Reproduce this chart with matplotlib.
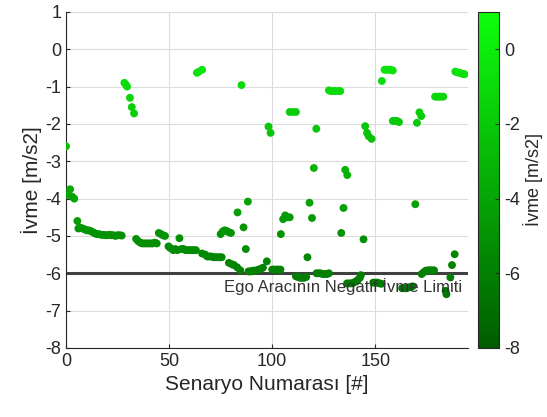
import numpy as np
import matplotlib
matplotlib.use("Agg")
import matplotlib.pyplot as plt
from matplotlib.colors import LinearSegmentedColormap

plt.rcParams['font.family'] = ['Liberation Sans', 'DejaVu Sans']
plt.rcParams['axes.unicode_minus'] = False

# scenario number and deceleration of each point
senaryo = [
    0, 1, 2, 3, 4, 5.5, 6, 7, 8, 9, 10, 11, 12, 13, 14, 15, 16, 17, 18, 19,
    20, 21, 22, 23, 24, 25, 26, 27,
    28.3, 29, 29.6, 31, 31.9, 33,
    34, 35, 36, 37, 38, 39, 40, 41, 42, 43, 44,
    45, 46, 47, 48,
    49.7, 50.5, 52, 53, 54, 55, 56, 57, 58, 59, 60, 61, 62, 63,
    63.5, 64.5, 66,
    66, 67.5, 68.5, 69.5, 70.5, 71.5, 72.5, 73.5, 74.5, 75.5,
    75, 76, 77, 78, 79, 80,
    79, 80.5, 81.5, 83, 84.5,
    83.2, 85.1, 86.1, 87.2, 88.2,
    88.5, 89.5, 90.5, 91.5, 92.5, 93.5, 94.5, 95.5, 97.4,
    98.2, 99.2,
    100, 101, 102, 103, 104,
    104.2, 105.3, 106.3, 107.5, 108.5,
    108.5, 110, 111.5,
    111.5, 112.5, 113.5, 114.5, 115.5, 116.5,
    117.1, 118.1, 119.3, 120.2, 121.4,
    121.5, 122.5, 123.5, 124.5, 125.5, 126.5, 127.5,
    127.5, 128.5, 129.5, 130.5, 132, 133,
    133.5, 134.6, 135.4, 136.4, 136.3,
    137.5, 138.5, 139.5, 140.5, 141.5, 142.5, 143,
    144.3, 145.1, 146, 146.8, 148.2,
    149, 150, 151, 152, 153,
    153.2, 154.5, 155.5, 156.5, 157.5, 158.5,
    158.5, 159.5, 160.5, 161.5,
    163, 164, 165, 166, 167, 168,
    169.4, 170.2, 171.4, 172.3,
    172.5, 173.5, 174.5, 175.5, 176.5, 177.5, 178.5,
    179, 180, 181, 182, 183,
    184.1, 184.5, 186.4, 187.2, 188.5,
    188.8, 189.8, 190.8, 191.8, 192.8, 193.3,
]
ivme = [
    -2.6, -3.9, -3.75, -3.95, -4.0, -4.6, -4.8, -4.78, -4.8, -4.82, -4.85, -4.85, -4.87, -4.9, -4.93, -4.95, -4.95, -4.97, -4.97, -4.98,
    -4.98, -4.97, -4.98, -4.98, -5.0, -4.98, -4.98, -4.99,
    -0.9, -0.95, -1.0, -1.3, -1.55, -1.72,
    -5.08, -5.14, -5.18, -5.2, -5.2, -5.2, -5.2, -5.2, -5.2, -5.18, -5.2,
    -4.92, -4.95, -4.98, -5.0,
    -5.28, -5.32, -5.38, -5.35, -5.38, -5.06, -5.35, -5.35, -5.38, -5.38, -5.38, -5.38, -5.38, -5.38,
    -0.63, -0.6, -0.55,
    -5.47, -5.5, -5.55, -5.55, -5.55, -5.57, -5.57, -5.57, -5.57, -5.57,
    -4.95, -4.88, -4.85, -4.87, -4.9, -4.92,
    -5.72, -5.76, -5.78, -5.84, -5.92,
    -4.37, -0.96, -4.77, -5.35, -4.08,
    -5.95, -5.95, -5.93, -5.93, -5.92, -5.9, -5.88, -5.85, -5.68,
    -2.07, -2.24,
    -5.9, -5.9, -5.9, -5.9, -5.9,
    -4.95, -4.55, -4.45, -4.5, -4.5,
    -1.68, -1.68, -1.68,
    -6.08, -6.1, -6.12, -6.12, -6.12, -6.1,
    -5.57, -4.11, -4.52, -3.18, -2.13,
    -6.0, -6.0, -6.0, -6.02, -6.02, -6.02, -6.0,
    -1.1, -1.12, -1.12, -1.12, -1.12, -1.12,
    -4.92, -4.25, -3.23, -3.37, -6.27,
    -6.27, -6.27, -6.25, -6.22, -6.18, -6.12, -6.05,
    -5.09, -2.06, -2.24, -2.33, -2.4,
    -6.25, -6.25, -6.25, -6.27, -6.28,
    -0.85, -0.55, -0.55, -0.55, -0.55, -0.57,
    -1.92, -1.92, -1.92, -1.95,
    -6.4, -6.4, -6.4, -6.38, -6.37, -6.35,
    -4.15, -1.97, -1.69, -1.79,
    -6.02, -5.97, -5.93, -5.92, -5.92, -5.92, -5.92,
    -1.27, -1.27, -1.27, -1.27, -1.27,
    -6.47, -6.56, -6.11, -5.78, -5.49,
    -0.6, -0.62, -0.63, -0.65, -0.66, -0.67,
]
limit = -6
limit_text = "Ego Aracının Negatif İvme Limiti"

greens = LinearSegmentedColormap.from_list(
    "greens", [(0.0, 0.36, 0.0), (0.05, 1.0, 0.05)])

fig = plt.figure(figsize=(5.47, 4.17), dpi=100)
ax = fig.add_axes([0.1207, 0.1655, 0.735, 0.806])
cax = fig.add_axes([0.874, 0.1655, 0.0384, 0.806])

sc = ax.scatter(senaryo, ivme, c=ivme, cmap=greens, vmin=-8, vmax=1,
                s=32, edgecolors='none', zorder=3)
ax.axhline(limit, color='#404040', linewidth=2.2, zorder=2)
ax.text(192, limit - 0.12, limit_text, ha='right', va='top',
        fontsize=12, color='#333333', zorder=4)

ax.set_xlim(0, 195)
ax.set_ylim(-8, 1)
ax.set_xticks([0, 50, 100, 150])
ax.set_yticks(range(-8, 2))
ax.grid(True, color='#dcdcdc', linewidth=0.8)
ax.set_axisbelow(True)
for side in ['top', 'right']:
    ax.spines[side].set_visible(False)
for side in ['left', 'bottom']:
    ax.spines[side].set_color('#262626')
ax.tick_params(direction='in', length=3, labelsize=13, colors='#262626')
ax.set_xlabel("Senaryo Numarası [#]", fontsize=15, color='#262626')
ax.set_ylabel("İvme [m/s2]", fontsize=15, color='#262626', labelpad=2)

cb = fig.colorbar(sc, cax=cax)
cb.set_ticks([0, -2, -4, -6, -8])
cb.ax.tick_params(direction='in', length=3, labelsize=13, colors='#262626')
cb.outline.set_edgecolor('#262626')
cb.set_label("İvme [m/s2]", fontsize=13, color='#262626', labelpad=2)

fig.savefig("out.png", dpi=100)
